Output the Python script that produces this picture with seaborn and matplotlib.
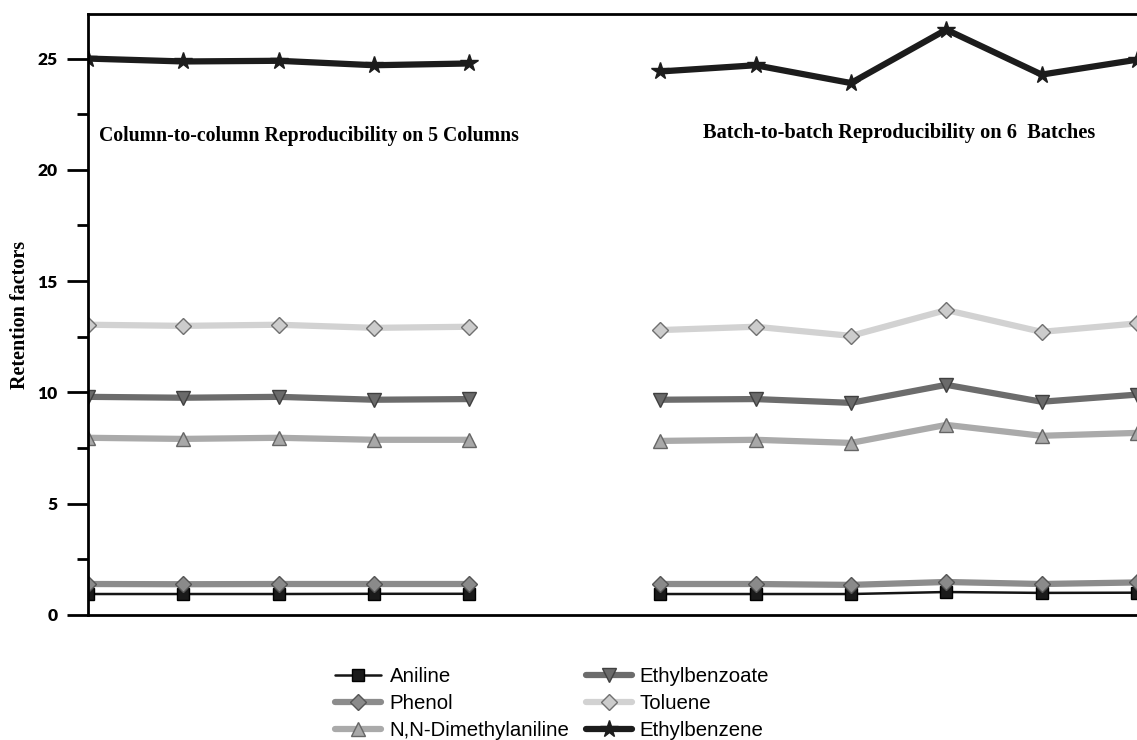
import matplotlib
matplotlib.use("Agg")
import matplotlib.pyplot as plt
from matplotlib.ticker import MultipleLocator
import seaborn as sns
import pandas as pd

sns.set_theme(style="white")

# positions on the shared axis: 5 columns, a gap, then 6 batches
column_pos = [0, 1, 2, 3, 4]
batch_pos = [6, 7, 8, 9, 10, 11]

compounds = ["Aniline", "Phenol", "N,N-Dimethylaniline",
             "Ethylbenzoate", "Toluene", "Ethylbenzene"]

aniline_cols = [0.94, 0.94, 0.94, 0.95, 0.95]
aniline_batch = [0.94, 0.94, 0.94, 1.03, 0.99, 1.00]
phenol_cols = [1.39, 1.38, 1.39, 1.39, 1.39]
phenol_batch = [1.39, 1.39, 1.35, 1.48, 1.39, 1.46]
dma_cols = [7.96, 7.91, 7.96, 7.87, 7.87]
dma_batch = [7.82, 7.87, 7.73, 8.54, 8.05, 8.18]
ebzoate_cols = [9.80, 9.76, 9.80, 9.67, 9.70]
ebzoate_batch = [9.67, 9.70, 9.53, 10.34, 9.58, 9.90]
toluene_cols = [13.04, 12.99, 13.04, 12.90, 12.95]
toluene_batch = [12.80, 12.95, 12.54, 13.70, 12.72, 13.10]
ebenzene_cols = [25.00, 24.87, 24.90, 24.70, 24.78]
ebenzene_batch = [24.42, 24.70, 23.90, 26.30, 24.28, 24.95]

series = {
    "Aniline": (aniline_cols, aniline_batch),
    "Phenol": (phenol_cols, phenol_batch),
    "N,N-Dimethylaniline": (dma_cols, dma_batch),
    "Ethylbenzoate": (ebzoate_cols, ebzoate_batch),
    "Toluene": (toluene_cols, toluene_batch),
    "Ethylbenzene": (ebenzene_cols, ebenzene_batch),
}

styles = {
    "Aniline": dict(color="#151515", lw=1.8, marker="s", ms=8, mfc="#1a1a1a", mec="#000000"),
    "Phenol": dict(color="#8c8c8c", lw=4.5, marker="D", ms=8, mfc="#8a8a8a", mec="#555555"),
    "N,N-Dimethylaniline": dict(color="#aaaaaa", lw=4.5, marker="^", ms=10, mfc="#a8a8a8", mec="#666666"),
    "Ethylbenzoate": dict(color="#6c6c6c", lw=4.5, marker="v", ms=10, mfc="#6a6a6a", mec="#404040"),
    "Toluene": dict(color="#d2d2d2", lw=4.5, marker="D", ms=8, mfc="#cccccc", mec="#707070"),
    "Ethylbenzene": dict(color="#1c1c1c", lw=4.5, marker="*", ms=13, mfc="#1c1c1c", mec="#1c1c1c"),
}

fig = plt.figure(figsize=(11.37, 7.40), dpi=100)
ax = fig.add_axes([0.0774, 0.169, 0.9226, 0.812])

handles = []
for name in compounds:
    cols, batches = series[name]
    st = styles[name]
    for i, (xs, ys) in enumerate([(column_pos, cols), (batch_pos, batches)]):
        df = pd.DataFrame({"x": xs, "y": ys})
        sns.lineplot(data=df, x="x", y="y", ax=ax, color=st["color"],
                     linewidth=st["lw"], marker=st["marker"],
                     markersize=st["ms"], markerfacecolor=st["mfc"],
                     markeredgecolor=st["mec"], markeredgewidth=1.0,
                     label=name if i == 0 else None, legend=False)
    handles.append(ax.lines[-1])

ax.set_xlim(0, 11)
ax.set_ylim(0, 27)
ax.set_xticks([])
ax.yaxis.set_major_locator(MultipleLocator(5))
ax.yaxis.set_minor_locator(MultipleLocator(2.5))
ax.tick_params(axis="y", which="major", direction="out", length=15, width=2,
               color="black", left=True, pad=7)
ax.tick_params(axis="y", which="minor", direction="out", length=8, width=2,
               color="black", left=True)
for lbl in ax.get_yticklabels():
    lbl.set_fontfamily("Lato")
    lbl.set_fontweight("heavy")
    lbl.set_fontsize(12.5)
    lbl.set_color("black")

for side in ["left", "bottom", "top"]:
    ax.spines[side].set_visible(True)
    ax.spines[side].set_color("black")
    ax.spines[side].set_linewidth(2)
ax.spines["right"].set_visible(False)

ax.set_xlabel("")
ax.set_ylabel("Retention factors", fontfamily="Liberation Serif",
              fontweight="bold", fontsize=14.5, color="black", labelpad=5)

ax.text(0.12, 21.5, "Column-to-column Reproducibility on 5 Columns",
        fontfamily="Liberation Serif", fontweight="bold", fontsize=14.2,
        color="black", va="center", ha="left")
ax.text(6.45, 21.65, "Batch-to-batch Reproducibility on 6  Batches",
        fontfamily="Liberation Serif", fontweight="bold", fontsize=14.7,
        color="black", va="center", ha="left")

# legend ordered column-wise: left column first three, right column last three
leg = fig.legend(handles=handles, labels=compounds, ncol=2,
                 loc="upper left", bbox_to_anchor=(0.286, 0.112),
                 frameon=False, prop={"family": "Liberation Sans", "size": 14.7},
                 handlelength=2.25, handletextpad=0.4, columnspacing=0.8,
                 labelspacing=0.38, borderpad=0)
for t in leg.get_texts():
    t.set_color("black")

fig.savefig("out.png", dpi=100, facecolor="white")
